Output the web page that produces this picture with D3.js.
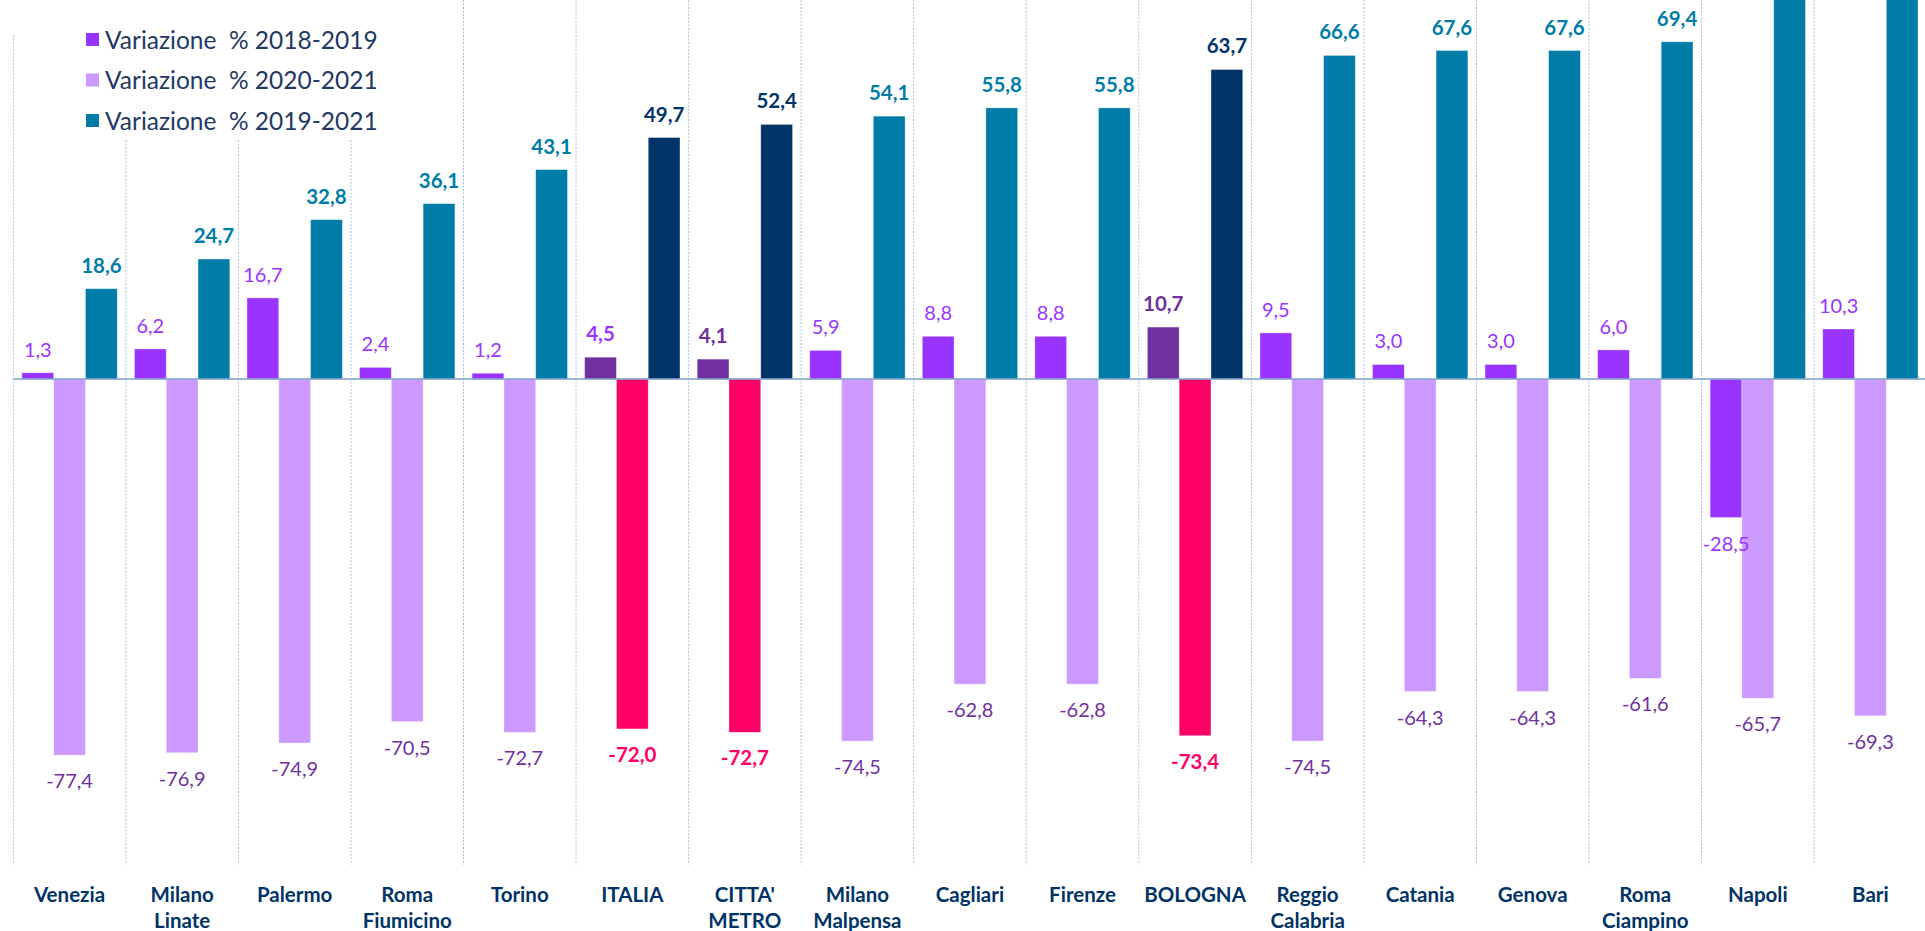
<!DOCTYPE html>
<html>
<head>
<meta charset="utf-8">
<script src="https://cdn.jsdelivr.net/npm/d3@7"></script>
<style>
  html, body { margin: 0; padding: 0; background: #ffffff; }
  svg { display: block; }
  text { font-family: Lato, "Noto Sans", sans-serif; }
</style>
</head>
<body>
<svg id="chart" width="1925" height="931"></svg>
<script>
// Airports (and national / metro aggregates) on the x axis
const categories = [
  "Venezia", "Milano\nLinate", "Palermo", "Roma\nFiumicino", "Torino", "ITALIA",
  "CITTA'\nMETRO", "Milano\nMalpensa", "Cagliari", "Firenze", "BOLOGNA",
  "Reggio\nCalabria", "Catania", "Genova", "Roma\nCiampino", "Napoli", "Bari"
];
// Aggregates drawn with their own highlight palette
const highlighted = ["ITALIA", "CITTA'\nMETRO", "BOLOGNA"];

const seriesNames = ["Variazione  % 2018-2019", "Variazione  % 2020-2021", "Variazione  % 2019-2021"];

const var2018_2019 = [1.3, 6.2, 16.7, 2.4, 1.2, 4.5, 4.1, 5.9, 8.8, 8.8, 10.7, 9.5, 3.0, 3.0, 6.0, -28.5, 10.3];
const var2020_2021 = [-77.4, -76.9, -74.9, -70.5, -72.7, -72.0, -72.7, -74.5, -62.8, -62.8, -73.4, -74.5, -64.3, -64.3, -61.6, -65.7, -69.3];
// Napoli and Bari run past the top of the plot area
const var2019_2021 = [18.6, 24.7, 32.8, 36.1, 43.1, 49.7, 52.4, 54.1, 55.8, 55.8, 63.7, 66.6, 67.6, 67.6, 69.4, 84.5, 86.9];

const seriesValues = [var2018_2019, var2020_2021, var2019_2021];

// Colours: normal palette and highlight palette, per series
const normalColors = ["#9933FF", "#CC99FF", "#007CA8"];
const highlightColors = ["#7030A0", "#FF0066", "#003366"];
const normalLabelColors = ["#9933FF", "#7030A0", "#007CA8"];
const highlightLabelColors = ["#7030A0", "#FF0066", "#003366"];

const svg = d3.select("#chart");
const W = 1925, H = 931;

const plotLeft = 13.3, step = 112.55;
const plotRight = plotLeft + step * categories.length;
const plotTop = 0, plotBottom = 865;

const x0 = d3.scaleBand().domain(categories).range([plotLeft, plotRight]).paddingInner(0).paddingOuter(0);
const x1 = d3.scaleBand().domain(d3.range(3)).range([0, x0.bandwidth()]).paddingInner(0).paddingOuter(0.27);
const y = d3.scaleLinear().domain([-100, 78]).range([plotBottom, plotTop]);

const locale = d3.formatLocale({ decimal: ",", thousands: ".", grouping: [3], currency: ["", "€"], minus: "-" });
const fmt = locale.format(".1f");

svg.append("defs").append("clipPath").attr("id", "plotClip")
  .append("rect").attr("x", plotLeft).attr("y", plotTop)
  .attr("width", plotRight - plotLeft).attr("height", plotBottom - plotTop);

// Vertical dashed separators between categories
const grid = svg.append("g");
categories.forEach((c, i) => {
  const gx = x0(c);
  grid.append("line")
    .attr("x1", gx).attr("x2", gx)
    .attr("y1", i === 0 ? 35 : plotTop).attr("y2", plotBottom)
    .attr("stroke", "#A9BEDF").attr("stroke-width", 1)
    .attr("stroke-dasharray", "2,1.5");
});

// Bars
const rows = categories.map((c, i) => ({ c, i, hi: highlighted.includes(c) }));
const barsG = svg.append("g").attr("clip-path", "url(#plotClip)");
rows.forEach(r => {
  seriesValues.forEach((vals, s) => {
    const v = vals[r.i];
    barsG.append("rect")
      .attr("x", x0(r.c) + x1(s))
      .attr("width", x1.bandwidth())
      .attr("y", y(Math.max(0, v)))
      .attr("height", Math.abs(y(v) - y(0)))
      .attr("fill", r.hi ? highlightColors[s] : normalColors[s])
      .attr("stroke", "#ffffff").attr("stroke-opacity", 0.45).attr("stroke-width", 0.8);
  });
});

// Zero baseline
svg.append("line")
  .attr("x1", plotLeft).attr("x2", W)
  .attr("y1", y(0)).attr("y2", y(0))
  .attr("stroke", "#7F9FC9").attr("stroke-width", 1.5);

// Value labels
const labelsG = svg.append("g");
rows.forEach(r => {
  seriesValues.forEach((vals, s) => {
    const v = vals[r.i];
    const cx = x0(r.c) + x1(s) + x1.bandwidth() / 2;
    const yy = v >= 0 ? y(v) - 16 : y(v) + 33;
    if (yy < 5) return; // label would sit above the visible area
    let color = r.hi ? highlightLabelColors[s] : normalLabelColors[s];
    if (r.c === "ITALIA" && s === 0) color = "#9933FF";
    const bold = r.hi || s === 2;
    labelsG.append("text")
      .attr("x", cx).attr("y", yy)
      .attr("text-anchor", "middle")
      .attr("font-size", bold ? 20.5 : 20)
      .attr("font-weight", bold ? 700 : 400)
      .attr("fill", color)
      .text(fmt(v));
  });
});

// Category labels (x axis)
const xAxisG = svg.append("g");
categories.forEach(c => {
  const lines = c.split("\n");
  const t = xAxisG.append("text")
    .attr("x", x0(c) + x0.bandwidth() / 2)
    .attr("y", 902)
    .attr("text-anchor", "middle")
    .attr("font-size", 20.5)
    .attr("font-weight", 700)
    .attr("fill", "#003366");
  lines.forEach((ln, k) => {
    t.append("tspan")
      .attr("x", x0(c) + x0.bandwidth() / 2)
      .attr("dy", k === 0 ? 0 : 26)
      .text(ln);
  });
});

// Legend
const legend = svg.append("g");
legend.append("rect").attr("x", 60).attr("y", 0).attr("width", 330).attr("height", 140).attr("fill", "#ffffff");
seriesNames.forEach((name, i) => {
  const cy = 39.5 + i * 40.5;
  legend.append("rect")
    .attr("x", 86).attr("y", cy - 6.5).attr("width", 13).attr("height", 13)
    .attr("fill", normalColors[i]);
  legend.append("text")
    .attr("x", 105).attr("y", cy + 9)
    .attr("font-size", 24.5)
    .attr("fill", "#1F3864")
    .attr("xml:space", "preserve")
    .style("white-space", "pre")
    .text(name);
});
</script>
</body>
</html>
